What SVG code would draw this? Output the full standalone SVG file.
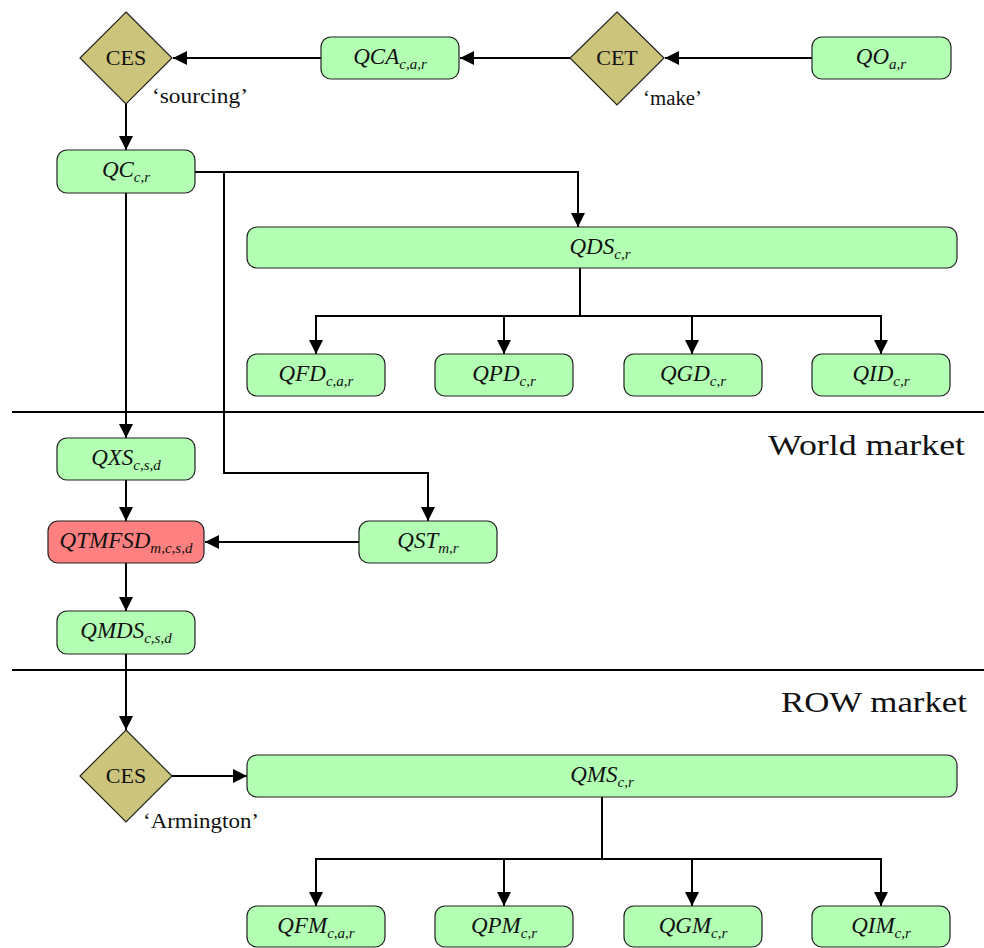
<svg xmlns="http://www.w3.org/2000/svg" width="984" height="948" viewBox="0 0 984 948">
<style>
.box{fill:#b3ffb3;stroke:#222;stroke-width:1.2}
.red{fill:#ff8080;stroke:#222;stroke-width:1.2}
.dia{fill:#ccc47a;stroke:#222;stroke-width:1.2}
.lbl{font-family:"Liberation Serif",serif;font-style:italic;font-size:23px;text-anchor:middle;fill:#111}
.sub{font-size:15px}
.dt{font-family:"Liberation Serif",serif;font-size:22px;text-anchor:middle;fill:#111}
.note{font-family:"Liberation Serif",serif;font-size:20px;fill:#111}
.sec{font-family:"Liberation Serif",serif;font-size:30px;fill:#111}
.ln{fill:none;stroke:#000;stroke-width:2}
.arr{fill:none;stroke:#000;stroke-width:2;marker-end:url(#ah)}
</style>
<defs>
<marker id="ah" markerUnits="userSpaceOnUse" markerWidth="16" markerHeight="14" refX="14" refY="7" orient="auto">
<path d="M0,0 L14,7 L0,14 Z" fill="#000"/>
</marker>
</defs>
<rect width="984" height="948" fill="#fff"/>

<g id="separators">
<line class="ln" x1="12" y1="412" x2="984" y2="412"/>
<line class="ln" x1="12" y1="670" x2="984" y2="670"/>
<text class="sec" x="768" y="455" textLength="197" lengthAdjust="spacingAndGlyphs">World market</text>
<text class="sec" x="781" y="712" textLength="186" lengthAdjust="spacingAndGlyphs">ROW market</text>
</g>

<g id="connectors">
<line class="arr" x1="812" y1="58" x2="665" y2="58"/>
<line class="arr" x1="570" y1="58" x2="460" y2="58"/>
<line class="arr" x1="321" y1="58" x2="173" y2="58"/>
<line class="arr" x1="126" y1="104" x2="126" y2="150"/>
<polyline class="arr" points="195,172 578,172 578,227"/>
<polyline class="arr" points="224,172 224,473 428,473 428,521"/>
<line class="arr" x1="126" y1="193" x2="126" y2="438"/>
<line class="ln" x1="580" y1="268" x2="580" y2="316"/>
<line class="ln" x1="315" y1="316" x2="882" y2="316"/>
<line class="arr" x1="316" y1="316" x2="316" y2="354"/>
<line class="arr" x1="504" y1="316" x2="504" y2="354"/>
<line class="arr" x1="692" y1="316" x2="692" y2="354"/>
<line class="arr" x1="881" y1="316" x2="881" y2="354"/>
<line class="arr" x1="126" y1="480" x2="126" y2="521"/>
<line class="arr" x1="359" y1="542" x2="205" y2="542"/>
<line class="arr" x1="126" y1="563" x2="126" y2="611"/>
<line class="arr" x1="126" y1="654" x2="126" y2="730"/>
<line class="arr" x1="172" y1="776" x2="247" y2="776"/>
<line class="ln" x1="602" y1="797" x2="602" y2="859"/>
<line class="ln" x1="315" y1="859" x2="882" y2="859"/>
<line class="arr" x1="316" y1="859" x2="316" y2="906"/>
<line class="arr" x1="504" y1="859" x2="504" y2="906"/>
<line class="arr" x1="692" y1="859" x2="692" y2="906"/>
<line class="arr" x1="881" y1="859" x2="881" y2="906"/>
</g>

<g id="ces1">
<polygon class="dia" points="126,12 172,58 126,104 80,58"/>
<text class="dt" x="126" y="65">CES</text>
<text class="note" x="152" y="103" textLength="96" lengthAdjust="spacingAndGlyphs">‘sourcing’</text>
</g>
<g id="qca">
<rect class="box" x="321" y="37" width="138" height="42" rx="10"/>
<text class="lbl" x="390" y="64">QCA<tspan class="sub" dy="5">c,a,r</tspan></text>
</g>
<g id="cet">
<polygon class="dia" points="617,12 664,58 617,105 570,58"/>
<text class="dt" x="617" y="65">CET</text>
<text class="note" x="643" y="105" textLength="59" lengthAdjust="spacingAndGlyphs">‘make’</text>
</g>
<g id="qo">
<rect class="box" x="812" y="37" width="139" height="42" rx="10"/>
<text class="lbl" x="881" y="64">QO<tspan class="sub" dy="5">a,r</tspan></text>
</g>
<g id="qc">
<rect class="box" x="57" y="150" width="138" height="43" rx="10"/>
<text class="lbl" x="126" y="177">QC<tspan class="sub" dy="5">c,r</tspan></text>
</g>
<g id="qds">
<rect class="box" x="247" y="227" width="710" height="41" rx="10"/>
<text class="lbl" x="600" y="254">QDS<tspan class="sub" dy="5">c,r</tspan></text>
</g>
<g id="qfd">
<rect class="box" x="247" y="354" width="138" height="42" rx="10"/>
<text class="lbl" x="316" y="381">QFD<tspan class="sub" dy="5">c,a,r</tspan></text>
</g>
<g id="qpd">
<rect class="box" x="435" y="354" width="138" height="42" rx="10"/>
<text class="lbl" x="504" y="381">QPD<tspan class="sub" dy="5">c,r</tspan></text>
</g>
<g id="qgd">
<rect class="box" x="624" y="354" width="138" height="42" rx="10"/>
<text class="lbl" x="693" y="381">QGD<tspan class="sub" dy="5">c,r</tspan></text>
</g>
<g id="qid">
<rect class="box" x="812" y="354" width="138" height="42" rx="10"/>
<text class="lbl" x="881" y="381">QID<tspan class="sub" dy="5">c,r</tspan></text>
</g>
<g id="qxs">
<rect class="box" x="57" y="438" width="138" height="42" rx="10"/>
<text class="lbl" x="126" y="465">QXS<tspan class="sub" dy="5">c,s,d</tspan></text>
</g>
<g id="qtmfsd">
<rect class="red" x="48" y="521" width="156" height="42" rx="10"/>
<text class="lbl" x="126" y="548">QTMFSD<tspan class="sub" dy="5">m,c,s,d</tspan></text>
</g>
<g id="qst">
<rect class="box" x="359" y="521" width="138" height="42" rx="10"/>
<text class="lbl" x="428" y="548">QST<tspan class="sub" dy="5">m,r</tspan></text>
</g>
<g id="qmds">
<rect class="box" x="57" y="611" width="138" height="43" rx="10"/>
<text class="lbl" x="126" y="638">QMDS<tspan class="sub" dy="5">c,s,d</tspan></text>
</g>
<g id="ces2">
<polygon class="dia" points="126,730 172,776 126,822 80,776"/>
<text class="dt" x="126" y="783">CES</text>
<text class="note" x="143" y="828" textLength="116" lengthAdjust="spacingAndGlyphs">‘Armington’</text>
</g>
<g id="qms">
<rect class="box" x="247" y="755" width="710" height="42" rx="10"/>
<text class="lbl" x="602" y="782">QMS<tspan class="sub" dy="5">c,r</tspan></text>
</g>
<g id="qfm">
<rect class="box" x="247" y="906" width="138" height="41" rx="10"/>
<text class="lbl" x="316" y="933">QFM<tspan class="sub" dy="5">c,a,r</tspan></text>
</g>
<g id="qpm">
<rect class="box" x="435" y="906" width="138" height="41" rx="10"/>
<text class="lbl" x="504" y="933">QPM<tspan class="sub" dy="5">c,r</tspan></text>
</g>
<g id="qgm">
<rect class="box" x="624" y="906" width="138" height="41" rx="10"/>
<text class="lbl" x="693" y="933">QGM<tspan class="sub" dy="5">c,r</tspan></text>
</g>
<g id="qim">
<rect class="box" x="812" y="906" width="138" height="41" rx="10"/>
<text class="lbl" x="881" y="933">QIM<tspan class="sub" dy="5">c,r</tspan></text>
</g>
</svg>
